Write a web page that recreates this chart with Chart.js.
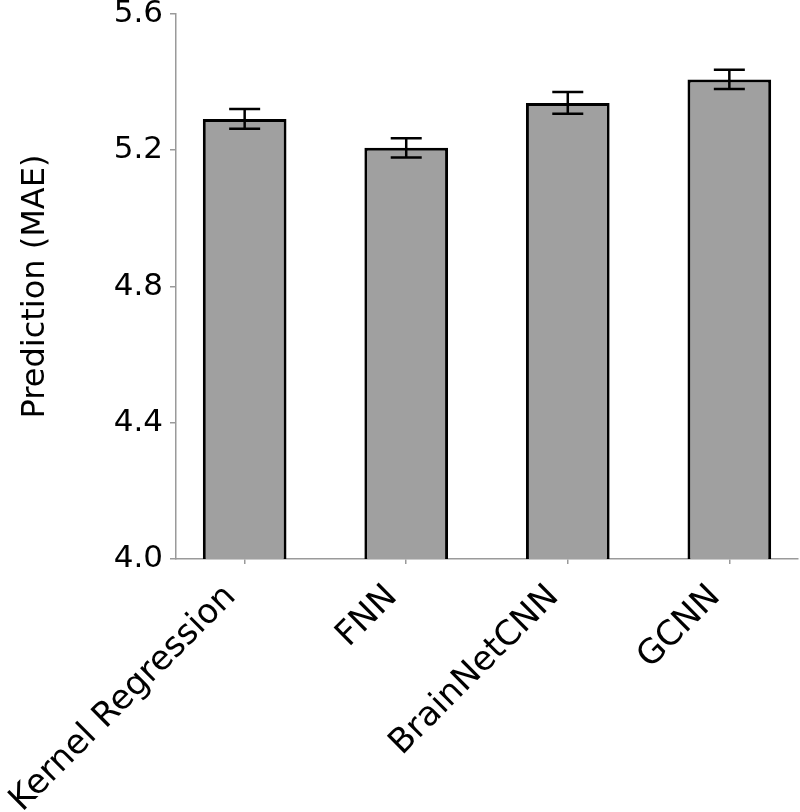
<!DOCTYPE html>
<html lang="en">
<head>
    <meta charset="UTF-8">
    <title>Prediction (MAE)</title>
    <script src="https://cdn.jsdelivr.net/npm/chart.js"></script>
    <style>
        html, body { margin: 0; padding: 0; background: #fff; }
        #wrap { width: 800px; height: 812px; position: relative; }
    </style>
</head>
<body>
    <div id="wrap"><canvas id="maeChart"></canvas></div>

    <script>
        // data
        const models = ['Kernel Regression', 'FNN', 'BrainNetCNN', 'GCNN'];
        const maeValues = [5.292, 5.207, 5.339, 5.408];
        const maeErrors = [0.029, 0.028, 0.032, 0.028];
        const yTicks = [4.0, 4.4, 4.8, 5.2, 5.6];

        const FONT = "'DejaVu Sans', sans-serif";
        const AXIS_GRAY = '#9a9a9a';

        // error bars drawn on top of the bars
        const errorBarPlugin = {
            id: 'errorBars',
            afterDatasetsDraw(chart) {
                const ctx = chart.ctx;
                const yScale = chart.scales.y;
                const meta = chart.getDatasetMeta(0);
                ctx.save();
                ctx.strokeStyle = '#000';
                ctx.lineWidth = 2.5;
                meta.data.forEach((bar, i) => {
                    const x = bar.x;
                    const yTop = yScale.getPixelForValue(maeValues[i] + maeErrors[i]);
                    const yBot = yScale.getPixelForValue(maeValues[i] - maeErrors[i]);
                    const cap = 15.5;
                    ctx.beginPath();
                    ctx.moveTo(x, yTop); ctx.lineTo(x, yBot);
                    ctx.moveTo(x - cap, yTop); ctx.lineTo(x + cap, yTop);
                    ctx.moveTo(x - cap, yBot); ctx.lineTo(x + cap, yBot);
                    ctx.stroke();
                });
                ctx.restore();
            }
        };

        // bars sit at x = 0..3 on a linear axis, like the original plot's margins
        const points = maeValues.map((v, i) => ({ x: i, y: v }));

        new Chart(document.getElementById('maeChart'), {
            type: 'bar',
            data: {
                datasets: [{
                    data: points,
                    backgroundColor: '#a0a0a0',
                    borderColor: '#000',
                    borderWidth: 3,
                    borderSkipped: 'start',
                    barPercentage: 0.518,
                    categoryPercentage: 1.0
                }]
            },
            options: {
                responsive: true,
                maintainAspectRatio: false,
                animation: false,
                layout: { padding: { top: 0, right: 2, left: 0, bottom: 0 } },
                plugins: {
                    legend: { display: false },
                    tooltip: { enabled: false }
                },
                scales: {
                    x: {
                        type: 'linear',
                        offset: false,
                        min: -0.425,
                        max: 3.425,
                        afterBuildTicks: (scale) => {
                            scale.ticks = models.map((m, i) => ({ value: i }));
                        },
                        grid: {
                            display: true,
                            drawOnChartArea: false,
                            offset: false,
                            tickLength: 5,
                            color: AXIS_GRAY,
                            lineWidth: 1.5
                        },
                        border: { display: true, color: AXIS_GRAY, width: 1.5 },
                        ticks: {
                            color: '#000',
                            font: { family: FONT, size: 34 },
                            minRotation: 45,
                            maxRotation: 45,
                            padding: 13,
                            labelOffset: -14,
                            callback: (v) => models[Math.round(v)]
                        },
                        afterFit: (scale) => {
                            scale.height = 253;
                            scale.paddingLeft = 0;
                            scale.paddingRight = 0;
                        }
                    },
                    y: {
                        min: yTicks[0],
                        max: yTicks[yTicks.length - 1],
                        afterBuildTicks: (scale) => {
                            scale.ticks = yTicks.map(v => ({ value: v }));
                        },
                        grid: {
                            display: true,
                            drawOnChartArea: false,
                            tickLength: 6,
                            color: AXIS_GRAY,
                            lineWidth: 1.5
                        },
                        border: { display: true, color: AXIS_GRAY, width: 1.5 },
                        ticks: {
                            color: '#000',
                            font: { family: FONT, size: 31 },
                            padding: 7,
                            callback: (v) => Number(v).toFixed(1)
                        },
                        title: {
                            display: true,
                            text: 'Prediction (MAE)',
                            color: '#000',
                            font: { family: FONT, size: 32 },
                            padding: { top: 16, bottom: 0 }
                        },
                        afterFit: (scale) => {
                            scale.width = 176;
                            scale.paddingTop = 14;
                        }
                    }
                }
            },
            plugins: [errorBarPlugin]
        });
    </script>
</body>
</html>
